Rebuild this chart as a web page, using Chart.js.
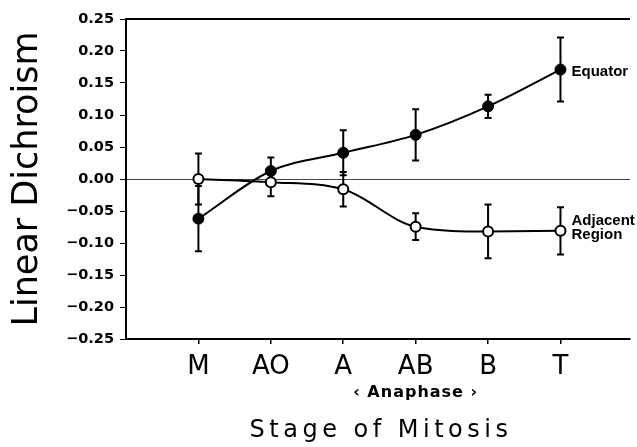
<!DOCTYPE html>
<html>
<head>
<meta charset="utf-8">
<script src="https://cdn.jsdelivr.net/npm/chart.js@4/dist/chart.umd.min.js"></script>
<style>
  html, body { margin: 0; padding: 0; background: #fff; }
  #wrap { width: 637px; height: 447px; }
</style>
</head>
<body>
<div id="wrap"><canvas id="c" width="637" height="447"></canvas></div>
<script>
// ---- data ----
const categories   = ['M', 'AO', 'A', 'AB', 'B', 'T'];
const equator      = [-0.062, 0.0125, 0.041, 0.069, 0.1135, 0.171];
const equatorErr   = [0.051, 0.021, 0.035, 0.040, 0.018, 0.050];
const adjacent     = [0.000, -0.005, -0.016, -0.0745, -0.082, -0.081];
const adjacentErr  = [0.040, 0.022, 0.027, 0.021, 0.042, 0.037];
const yTicks       = [-0.25, -0.20, -0.15, -0.10, -0.05, 0.00, 0.05, 0.10, 0.15, 0.20, 0.25];
const seriesNames  = ['Equator', 'Adjacent Region'];
const yTitle = 'Linear Dichroism';
const xTitle = 'Stage of Mitosis';
const subLabel = '\u2039 Anaphase \u203A';
const subLabelAt = 'AB';

const toPts = arr => arr.map((v, i) => ({ x: i, y: v }));

const errorBars = {
  id: 'errorBars',
  beforeDatasetsDraw(chart) {
    const ctx = chart.ctx, xs = chart.scales.x, ys = chart.scales.y;
    const sets = [[equator, equatorErr], [adjacent, adjacentErr]];
    ctx.save();
    ctx.strokeStyle = '#000';
    ctx.lineWidth = 2;
    sets.forEach(([vals, errs]) => {
      vals.forEach((v, i) => {
        const px = xs.getPixelForValue(i);
        const top = ys.getPixelForValue(v + errs[i]);
        const bot = ys.getPixelForValue(v - errs[i]);
        ctx.beginPath();
        ctx.moveTo(px, top); ctx.lineTo(px, bot);
        ctx.moveTo(px - 3.5, top); ctx.lineTo(px + 3.5, top);
        ctx.moveTo(px - 3.5, bot); ctx.lineTo(px + 3.5, bot);
        ctx.stroke();
      });
    });
    ctx.restore();
  }
};

const decorations = {
  id: 'decorations',
  afterDraw(chart) {
    const ctx = chart.ctx, a = chart.chartArea, xs = chart.scales.x, ys = chart.scales.y;
    ctx.save();
    // top frame line
    ctx.strokeStyle = '#000';
    ctx.lineWidth = 2;
    ctx.beginPath();
    ctx.moveTo(a.left - 1, a.top); ctx.lineTo(a.right, a.top);
    ctx.stroke();
    ctx.fillStyle = '#000';
    // y title
    ctx.save();
    ctx.font = '35px "DejaVu Sans"';
    ctx.textAlign = 'center';
    ctx.textBaseline = 'alphabetic';
    ctx.translate(37, (a.top + a.bottom) / 2);
    ctx.rotate(-Math.PI / 2);
    ctx.fillText(yTitle, 0, 0);
    ctx.restore();
    // x title
    ctx.save();
    ctx.font = '24px "DejaVu Sans"';
    ctx.letterSpacing = '4.5px';
    ctx.textAlign = 'center';
    ctx.textBaseline = 'alphabetic';
    ctx.fillText(xTitle, (a.left + a.right) / 2 + 3, 437);
    ctx.restore();
    // Anaphase sub label
    ctx.save();
    ctx.font = 'bold 16px "DejaVu Sans"';
    ctx.letterSpacing = '1px';
    ctx.textAlign = 'center';
    ctx.fillText(subLabel, xs.getPixelForValue(categories.indexOf(subLabelAt)), 397);
    ctx.restore();
    // series labels
    const last = categories.length - 1;
    const lx = xs.getPixelForValue(last) + 11;
    ctx.textAlign = 'left';
    ctx.font = 'bold 15px "Liberation Sans"';
    ctx.fillText(seriesNames[0], lx, ys.getPixelForValue(equator[last]) + 6);
    const ay = ys.getPixelForValue(adjacent[last]);
    const parts = seriesNames[1].split(' ');
    ctx.fillText(parts[0], lx, ay - 6);
    ctx.fillText(parts[1], lx, ay + 8);
    ctx.restore();
  }
};

new Chart(document.getElementById('c'), {
  type: 'line',
  data: {
    datasets: [
      {
        label: seriesNames[0],
        data: toPts(equator),
        borderColor: '#000',
        borderWidth: 2,
        backgroundColor: '#000',
        pointBackgroundColor: '#000',
        pointBorderColor: '#000',
        pointBorderWidth: 1,
        pointRadius: 5.5,
        cubicInterpolationMode: 'monotone',
        fill: false
      },
      {
        label: seriesNames[1],
        data: toPts(adjacent),
        borderColor: '#000',
        borderWidth: 2,
        backgroundColor: '#fff',
        pointBackgroundColor: '#fff',
        pointBorderColor: '#000',
        pointBorderWidth: 2,
        pointRadius: 5,
        cubicInterpolationMode: 'monotone',
        fill: false
      }
    ]
  },
  options: {
    responsive: false,
    animation: false,
    devicePixelRatio: 1,
    layout: { padding: { top: 19, left: 0, right: 0, bottom: 0 } },
    plugins: { legend: { display: false }, tooltip: { enabled: false } },
    scales: {
      x: {
        type: 'linear',
        min: -1,
        max: 5.96,
        afterBuildTicks: s => { s.ticks = categories.map((c, i) => ({ value: i })); },
        afterFit: s => { s.height = 108; },
        border: { display: true, color: '#000', width: 2 },
        grid: { drawOnChartArea: false, drawTicks: true, tickLength: 5, tickColor: '#000', lineWidth: 1.5 },
        ticks: {
          autoSkip: false,
          maxRotation: 0,
          padding: 8,
          color: '#000',
          font: { family: 'DejaVu Sans', size: 26 },
          callback: v => categories[v] ?? ''
        }
      },
      y: {
        type: 'linear',
        min: -0.25,
        max: 0.25,
        afterBuildTicks: s => { s.ticks = yTicks.map(v => ({ value: v })); },
        afterFit: s => { s.width = 126; },
        border: { display: true, color: '#000', width: 2 },
        grid: {
          drawOnChartArea: true,
          drawTicks: true,
          tickLength: 6,
          tickColor: '#000',
          color: c => (c.tick && Math.abs(c.tick.value) < 1e-9) ? '#444' : 'rgba(0,0,0,0)',
          lineWidth: 1
        },
        ticks: {
          padding: 6,
          color: '#000',
          font: { family: 'DejaVu Sans', size: 14.5, weight: 'bold' },
          callback: v => (v < -1e-9 ? '\u2212' : '') + Math.abs(v).toFixed(2)
        }
      }
    }
  },
  plugins: [errorBars, decorations]
});
</script>
</body>
</html>
